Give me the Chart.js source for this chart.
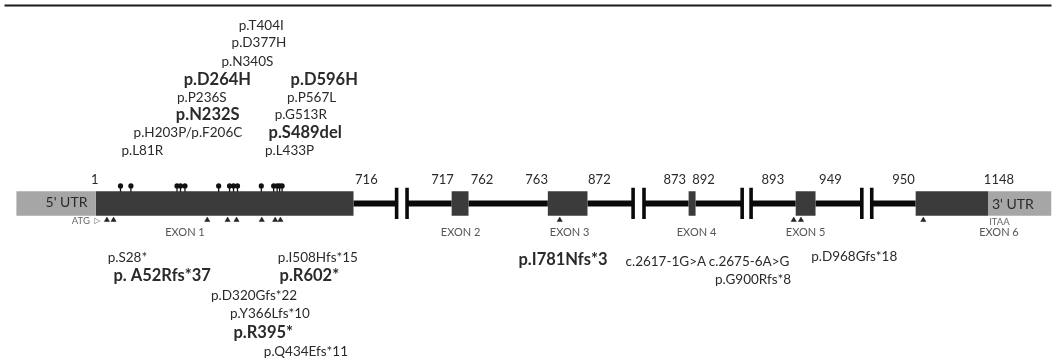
<!DOCTYPE html>
<html>
<head>
<meta charset="utf-8">
<script src="https://cdn.jsdelivr.net/npm/chart.js@4.4.1/dist/chart.umd.min.js"></script>
<style>
html,body{margin:0;padding:0;background:#fff;}
#wrap{width:1056px;height:364px;position:relative;}
canvas{display:block;}
</style>
</head>
<body>
<div id="wrap"><canvas id="c" width="1056" height="364"></canvas></div>
<script>
// ---- Diagram data (positions, in diagram units) ----
const regionNames = ["5' UTR", "EXON 1", "EXON 2", "EXON 3", "EXON 4", "EXON 5", "EXON 6", "3' UTR"];
const regionStart = [12, 92, 451, 548, 690, 798, 919, 992];
const regionEnd   = [92, 352, 468, 588, 697, 818, 992, 1056];
const regionIsUTR = [true, false, false, false, false, false, false, true];

const intronStart = [352, 406, 468, 588, 645, 697, 753, 818, 875];
const intronEnd   = [395.5, 451, 548, 634, 690, 744, 798, 865, 919];

const breakX = [395.5, 406, 634, 645, 744, 753, 864.7, 874.7];

const posLabels = ["1", "716", "717", "762", "763", "872", "873", "892", "893", "949", "950", "1148"];
const posX      = [91, 365, 441.7, 481.7, 536.7, 600, 676, 705, 775, 833, 906.7, 1003];

const exonLabels = ["EXON 1", "EXON 2", "EXON 3", "EXON 4", "EXON 5", "EXON 6"];
const exonLabelX = [182, 460, 570, 698, 808, 1003];

// missense / in-frame variants (pins above exon 1)
const pinX = [117, 127.5, 174, 177.5, 182, 216, 227, 231, 235, 259, 271.5, 275, 277.5, 280];
// truncating / splice variants (arrowheads below)
const arrowX = [103.3, 110, 204.5, 225, 234, 259.5, 273, 278.3, 560, 796, 803.3, 926.7];

const topLabels = ["p.T404I", "p.D377H", "p.N340S", "p.D264H", "p.D596H", "p.P236S", "p.P567L",
                   "p.N232S", "p.G513R", "p.H203P/p.F206C", "p.S489del", "p.L81R", "p.L433P"];
const topX    = [259, 256.7, 245, 214.7, 322.5, 199, 309.7, 205, 298.8, 185, 303.3, 139, 287.5];
const topY    = [21.7, 39.3, 58.3, 76.7, 76.7, 95, 95, 113.3, 113.3, 131.7, 131.7, 150, 150];
const topBold = [0, 0, 0, 1, 1, 0, 0, 1, 0, 0, 1, 0, 0];

const bottomLabels = ["p.S28*", "p.I508Hfs*15", "p. A52Rfs*37", "p.R602*", "p.D320Gfs*22", "p.Y366Lfs*10",
                      "p.R395*", "p.Q434Efs*11", "p.I781Nfs*3", "c.2617-1G>A", "c.2675-6A>G", "p.G900Rfs*8", "p.D968Gfs*18"];
const bottomX    = [124, 316, 159, 307.5, 251.7, 267.7, 261, 304, 563.3, 667, 751, 755, 857];
const bottomY    = [260, 260, 278.3, 278.3, 298.3, 316.7, 336.7, 356, 261.7, 263.3, 263.3, 281.7, 258.3];
const bottomBold = [0, 0, 1, 1, 0, 0, 1, 0, 1, 0, 0, 0, 0];

// rows (vertical positions)
const geneY = 204;
const posLabelY = 180;
const exonLabelY = 234;

// ---- Build datasets ----
const datasets = [];
for (let i = 0; i < intronStart.length; i++) {
  datasets.push({type: 'line', data: [{x: intronStart[i], y: geneY}, {x: intronEnd[i], y: geneY}],
    borderColor: '#0a0a0a', borderWidth: 6, borderCapStyle: 'butt', pointRadius: 0, order: 5});
}
for (let i = 0; i < breakX.length; i++) {
  datasets.push({type: 'line', data: [{x: breakX[i], y: 188}, {x: breakX[i], y: 220}],
    borderColor: '#0a0a0a', borderWidth: 3.6, borderCapStyle: 'butt', pointRadius: 0, order: 4});
}
for (let i = 0; i < regionStart.length; i++) {
  datasets.push({type: 'line', data: [{x: regionStart[i], y: geneY}, {x: regionEnd[i], y: geneY}],
    borderColor: regionIsUTR[i] ? '#a6a6a6' : '#3b3b3b', borderWidth: 24.5, borderCapStyle: 'butt',
    pointRadius: 0, order: 3});
}
const stems = [];
pinX.forEach(x => { stems.push({x: x, y: 186}, {x: x, y: 192}, {x: x, y: null}); });
datasets.push({type: 'line', data: stems, borderColor: '#111', borderWidth: 1.3, pointRadius: 0, spanGaps: false, order: 2});
datasets.push({type: 'scatter', data: pinX.map(x => ({x: x, y: 186})), pointStyle: 'circle',
  pointRadius: 2.6, backgroundColor: '#111', borderWidth: 0, order: 1});
datasets.push({type: 'scatter', data: arrowX.map(x => ({x: x, y: 221})), pointStyle: 'triangle',
  pointRadius: 3, backgroundColor: '#222', borderColor: '#222', borderWidth: 0.5, order: 1});

// ---- Text plugin ----
const FONT = 'Lato, "Open Sans", sans-serif';
const textPlugin = {
  id: 'diagramText',
  afterDatasetsDraw(chart) {
    const ctx = chart.ctx, xs = chart.scales.x, ys = chart.scales.y;
    ctx.save();
    ctx.textAlign = 'center';
    ctx.textBaseline = 'middle';
    const put = (t, x, y, font, color) => {
      ctx.font = font; ctx.fillStyle = color;
      ctx.fillText(t, xs.getPixelForValue(x), ys.getPixelForValue(y));
    };
    ctx.strokeStyle = '#1a1a1a'; ctx.lineWidth = 2;
    ctx.beginPath(); ctx.moveTo(xs.getPixelForValue(0), ys.getPixelForValue(1));
    ctx.lineTo(xs.getPixelForValue(1056), ys.getPixelForValue(1)); ctx.stroke();

    const reg = '13.5px ' + FONT, bld = 'bold 16.5px ' + FONT;
    topLabels.forEach((t, i) => put(t, topX[i], topY[i], topBold[i] ? bld : reg, '#2a2a2a'));
    bottomLabels.forEach((t, i) => put(t, bottomX[i], bottomY[i], bottomBold[i] ? bld : reg, '#2a2a2a'));
    posLabels.forEach((t, i) => put(t, posX[i], posLabelY, '13px ' + FONT, '#2a2a2a'));
    exonLabels.forEach((t, i) => put(t, exonLabelX[i], exonLabelY, '11px ' + FONT, '#555'));
    put("5' UTR", 62.5, 203.5, '14px ' + FONT, '#2a2a2a');
    put("3' UTR", 1017, 205, '14px ' + FONT, '#2a2a2a');
    put("ATG", 77, 221.5, '9.5px ' + FONT, '#666');
    put("\u25B7", 93.5, 221.5, '8px "DejaVu Sans"', '#666');
    put("ITAA", 1003.5, 223, '9.5px ' + FONT, '#666');
    ctx.restore();
  }
};

new Chart(document.getElementById('c'), {
  type: 'scatter',
  data: {datasets: datasets},
  options: {
    responsive: false,
    animation: false,
    devicePixelRatio: 1,
    layout: {padding: 0},
    plugins: {legend: {display: false}, tooltip: {enabled: false}, title: {display: false}},
    scales: {
      x: {type: 'linear', min: 0, max: 1056, display: false},
      y: {type: 'linear', min: 0, max: 364, reverse: true, display: false}
    },
    elements: {line: {tension: 0}}
  },
  plugins: [textPlugin]
});
</script>
</body>
</html>
